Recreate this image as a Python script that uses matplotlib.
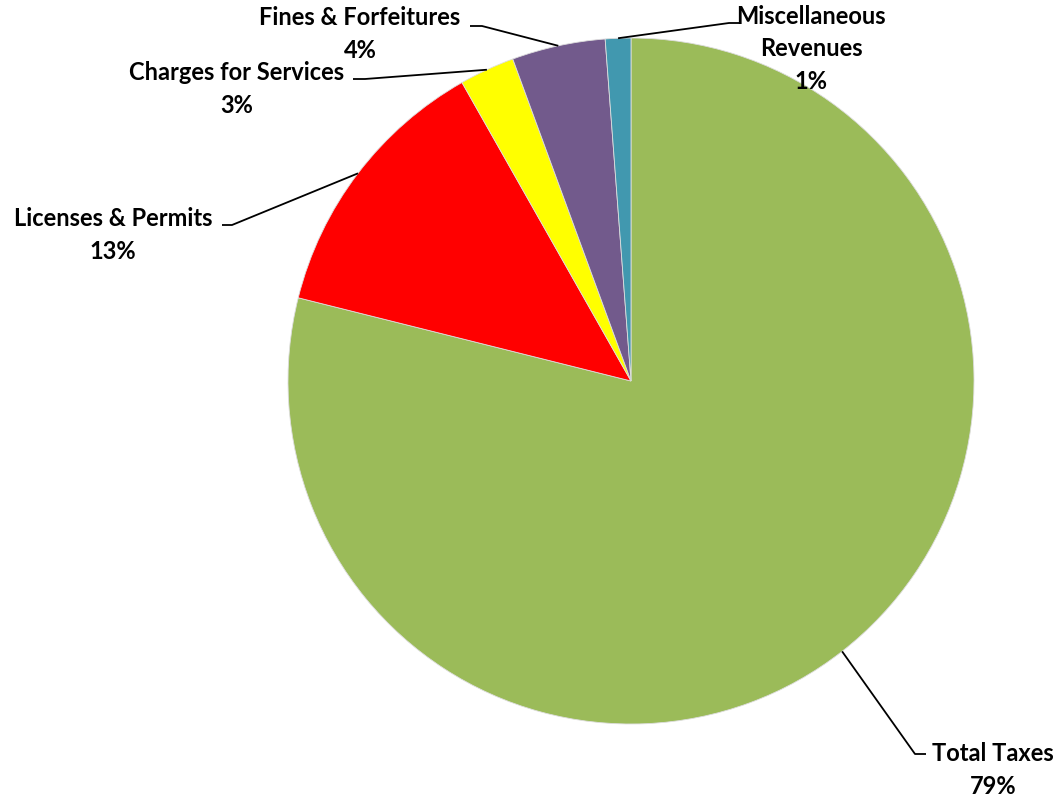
import numpy as np
import matplotlib
matplotlib.use("Agg")
import matplotlib.pyplot as plt

labels = ["Total Taxes", "Licenses & Permits", "Charges for Services",
          "Fines & Forfeitures", "Miscellaneous\nRevenues"]
values = [78.9, 12.9, 2.6, 4.4, 1.2]
colors = ["#9BBB59", "#FF0000", "#FFFF00", "#725A8C", "#4198AF"]

# label block centres and leader elbows, in pixel coords (y down)
text_pos = [(993, 770), (113, 235), (237, 89), (360, 34), (811, 49)]
elbows = [((915, 754), (926, 754)),
          ((232, 225), (222, 225)),
          ((365, 79), (353, 79)),
          ((482, 26), (470, 26)),
          ((729, 23), (741, 23))]

W, H = 1060, 800
fig = plt.figure(figsize=(W / 100, H / 100), dpi=100)
ax = fig.add_axes([0, 0, 1, 1])

cx, cy, r = 631, H - 381, 343
wedges, _ = ax.pie(values, colors=colors, startangle=90, counterclock=False,
                   center=(cx, cy), radius=r, frame=True,
                   wedgeprops=dict(edgecolor="#DDDDDD", linewidth=0.6))
ax.set_xlim(0, W)
ax.set_ylim(0, H)
ax.set_aspect("equal")
ax.axis("off")

total = sum(values)
for w, lab, v, (tx, ty), (e1, e2) in zip(wedges, labels, values, text_pos, elbows):
    mid = np.deg2rad((w.theta1 + w.theta2) / 2)
    sx, sy = cx + r * np.cos(mid), cy + r * np.sin(mid)
    ax.plot([sx, e1[0], e2[0]], [sy, H - e1[1], H - e2[1]], color="black", lw=1.3,
            solid_capstyle="butt")
    pct = round(v / total * 100)
    ax.text(tx, H - ty, f"{lab}\n{pct}%", ha="center", va="center",
            multialignment="center", fontsize=17, fontweight="bold",
            family="Lato", linespacing=1.5)

fig.savefig("out.png", dpi=100)
